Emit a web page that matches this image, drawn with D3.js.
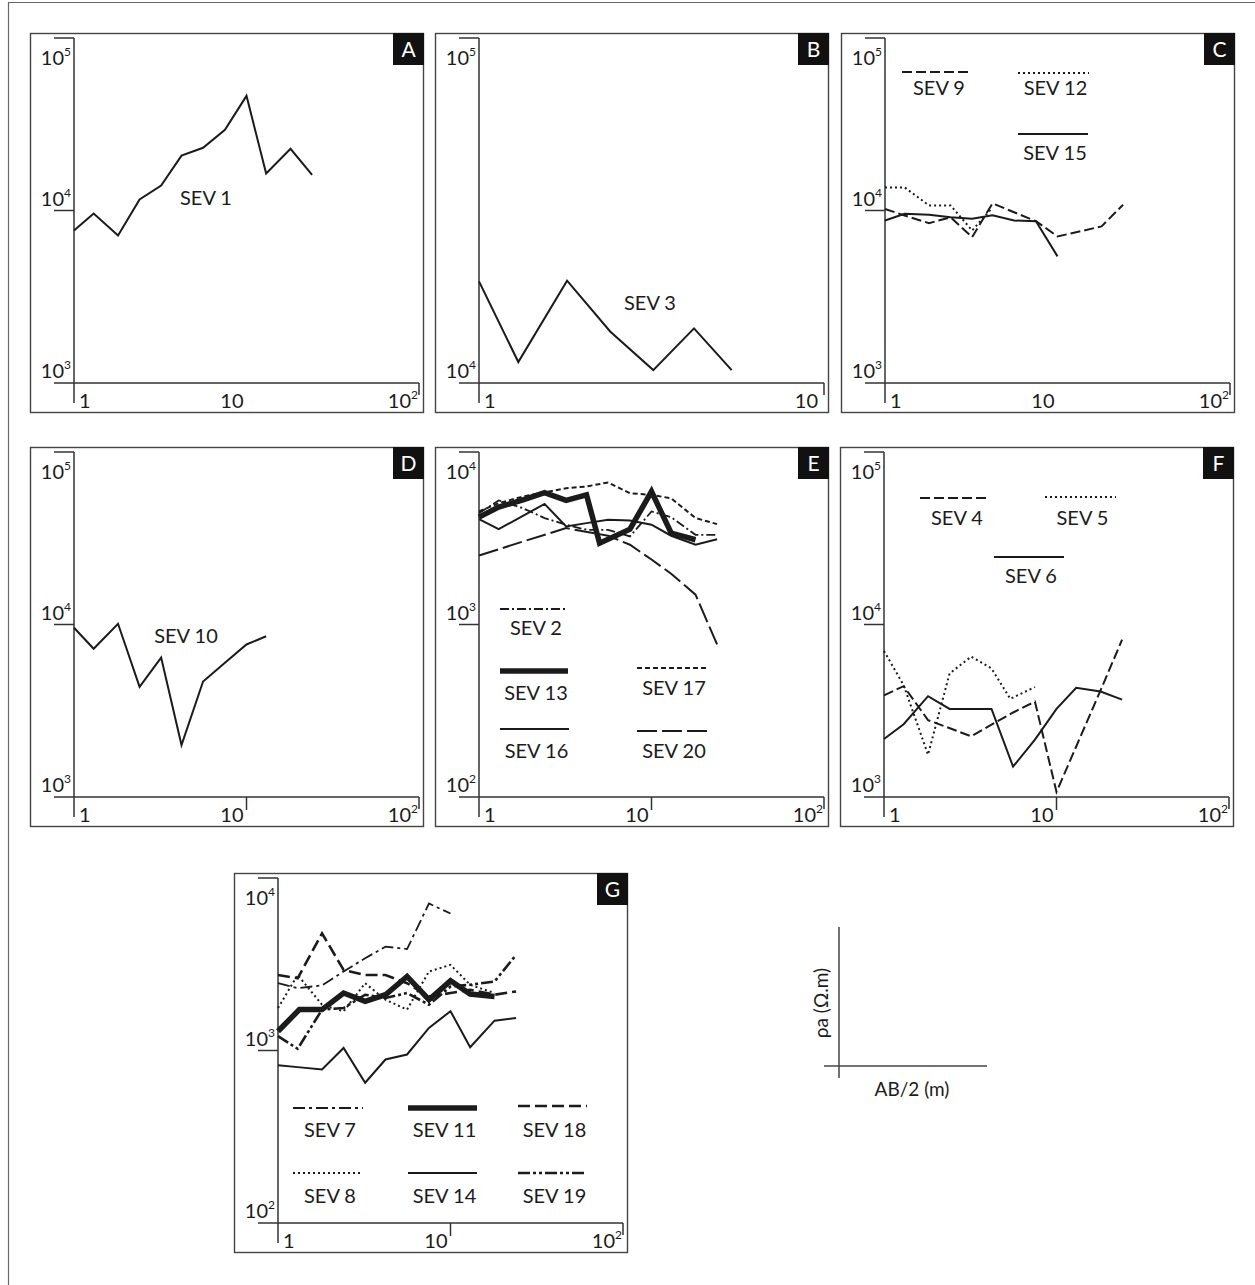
<!DOCTYPE html>
<html><head><meta charset="utf-8">
<script src="https://cdn.jsdelivr.net/npm/d3@7"></script>
<style>
body{margin:0;background:#fff}
svg{display:block}
text{font-family:Lato,"Open Sans",sans-serif;fill:#1b1b1b}
</style>
</head><body>
<svg id="c" width="1255" height="1285"></svg>
<script>
// ---- data: [AB/2 (m), rho_a (ohm.m)] ----
const sev1  = [[1,7650],[1.3,9600],[1.8,7160],[2.4,11600],[3.2,13960],[4.2,20800],[5.6,23100],[7.5,29400],[10,46200],[13,16400],[18,22800],[24,16100]];
const sev3  = [[1,19700],[1.3,11500],[1.8,19800],[2.4,14100],[3.2,10900],[4.2,14400],[5.4,10900]];
const sev9  = [[1,10200],[1.3,9350],[1.8,8450],[2.4,9140],[3.2,7010],[4.2,11000],[5.6,9770],[7.5,8670],[10,7080],[13,7500],[18,8090],[24,10800]];
const sev12 = [[1,13600],[1.3,13600],[1.8,10700],[2.4,10700],[3.2,7660],[4.2,10400]];
const sev15 = [[1,8750],[1.3,9570],[1.8,9450],[2.4,9140],[3.2,8950],[4.2,9380],[5.6,8750],[7.5,8670],[10,5420]];
const sev10 = [[1,9570],[1.3,7230],[1.8,10100],[2.4,4350],[3.2,6430],[4.2,2000],[5.6,4670],[7.5,6010],[10,7660],[13,8550]];
const sev2  = [[1,4420],[1.3,5240],[1.8,4720],[2.4,4140],[3.2,3790],[4.2,3540],[5.6,3540],[7.5,3240],[10,4520],[13,4190],[18,3310],[24,3310]];
const sev13 = [[1,4190],[1.3,4790],[1.8,5280],[2.4,5820],[3.2,5240],[4.2,5640],[5,2960],[7.5,3570],[10,5900],[13,3390],[18,3100]];
const sev16 = [[1,4080],[1.3,3570],[2.4,5000],[3.2,3700],[4.2,3870],[5.6,4050],[7.5,4010],[10,3790],[13,3270],[18,2900],[24,3120]];
const sev17 = [[1,4520],[1.3,5050],[1.8,5520],[3.2,6170],[4.2,6310],[5.6,6660],[7.5,5770],[10,5640],[13,5390],[18,4140],[24,3820]];
const sev20 = [[1,2510],[1.8,3030],[3.2,3620],[5.6,3270],[7.5,2900],[10,2380],[13,1970],[18,1490],[24,766]];
const sev4  = [[1,3880],[1.3,4390],[1.8,2790],[3.2,2250],[5.6,3090],[7.5,3570],[10,1070],[18,4150],[24,8160]];
const sev5  = [[1,7030],[1.3,4440],[1.8,1760],[2.4,5200],[3.2,6510],[4.2,5560],[5.4,3710],[7.5,4340]];
const sev6  = [[1,2170],[1.3,2640],[1.8,3840],[2.4,3240],[3.2,3240],[4.2,3240],[5.6,1500],[7.5,2150],[10,3240],[13,4300],[18,4090],[24,3670]];
const sev7  = [[1,2455],[1.3,2300],[1.8,2384],[2.4,2870],[3.2,3427],[4.2,4000],[5.6,3875],[7.5,7110],[10,6223]];
const sev8  = [[1,1763],[1.3,2742],[1.8,1842],[2.4,1686],[3.2,2455],[4.2,1970],[5.6,1726],[7.5,2870],[10,3137],[13,2404],[18,2153]];
const sev11 = [[1,1294],[1.33,1726],[1.8,1726],[2.4,2153],[3.2,1928],[4.2,2105],[5.6,2686],[7.5,1970],[10,2535],[13,2123],[18,2057]];
const sev14 = [[1,822],[1.3,801],[1.8,777],[2.4,1035],[3.2,650],[4.2,887],[5.6,948],[7.5,1352],[10,1690],[13,1045],[18,1489],[24,1543]];
const sev18 = [[1,2742],[1.3,2623],[1.8,4775],[2.4,2931],[3.2,2742],[4.2,2742],[5.6,2455],[7.5,2057],[10,2153],[13,2250],[18,2105],[24,2200]];
const sev19 = [[1,1211],[1.3,1023],[1.8,1726],[2.4,1763],[3.2,2105],[4.2,2014],[5.6,2153],[7.5,1842],[10,2350],[13,2404],[18,2512],[24,3580]];

const panelIds = ["A","B","C","D","E","F","G"];
const xTickLabels = {A:["1","10","10|2"],B:["1","10"],C:["1","10","10|2"],D:["1","10","10|2"],E:["1","10","10|2"],F:["1","10","10|2"],G:["1","10","10|2"]};
const yTickLabels = {A:["10|5","10|4","10|3"],B:["10|5","10|4"],C:["10|5","10|4","10|3"],D:["10|5","10|4","10|3"],E:["10|4","10|3","10|2"],F:["10|5","10|4","10|3"],G:["10|4","10|3","10|2"]};

// ---- styles ----
const S = {
  solid:{w:2, dash:null},
  thick:{w:5.5, dash:null},
  dash:{w:2, dash:"10,4"},
  dot:{w:2, dash:"2,3"},
  sdash:{w:2, dash:"5,3"},
  ldash:{w:2, dash:"20,5"},
  dashdot:{w:1.8, dash:"9,3,2,3"},
  dashdot7:{w:1.8, dash:"12,4,3,4"},
  dash18:{w:2.6, dash:"12,5"},
  dashdotdot:{w:2.6, dash:"12,3,3,3,3,3"}
};

const W = 393, H = 379, PL = 44, PB = 29, PS = 345;
const panels = [
  {id:"A", x0:30,  y0:33,  xd:[1,100], yd:[1e3,1e5], tick10:false,
   series:[{d:sev1,s:"solid"}], notes:[{t:"SEV 1",x:206,y:205}], legend:[]},
  {id:"B", x0:435, y0:33,  xd:[1,10],  yd:[1e4,1e5], tick10:false,
   series:[{d:sev3,s:"solid"}], notes:[{t:"SEV 3",x:650,y:310}], legend:[]},
  {id:"C", x0:841, y0:33,  xd:[1,100], yd:[1e3,1e5], tick10:false,
   series:[{d:sev12,s:"dot"},{d:sev9,s:"dash"},{d:sev15,s:"solid"}], notes:[],
   legend:[{s:"dash",t:"SEV 9",x1:902,x2:972,y:72,ty:95},{s:"dot",t:"SEV 12",x1:1018,x2:1089,y:73,ty:95},{s:"solid",t:"SEV 15",x1:1018,x2:1088,y:134,ty:160}]},
  {id:"D", x0:30,  y0:447, xd:[1,100], yd:[1e3,1e5], tick10:true,
   series:[{d:sev10,s:"solid"}], notes:[{t:"SEV 10",x:186,y:643}], legend:[]},
  {id:"E", x0:435, y0:447, xd:[1,100], yd:[1e2,1e4], tick10:true,
   series:[{d:sev20,s:"ldash"},{d:sev2,s:"dashdot"},{d:sev16,s:"solid"},{d:sev17,s:"sdash"},{d:sev13,s:"thick"}], notes:[],
   legend:[{s:"dashdot",t:"SEV 2",x1:500,x2:568,y:609,ty:635},{s:"thick",t:"SEV 13",x1:500,x2:568,y:671,ty:700},
           {s:"sdash",t:"SEV 17",x1:637,x2:707,y:668,ty:695},{s:"solid",t:"SEV 16",x1:500,x2:569,y:729,ty:758},
           {s:"ldash",t:"SEV 20",x1:637,x2:707,y:731,ty:758}]},
  {id:"F", x0:840, y0:447, xd:[1,100], yd:[1e3,1e5], tick10:true,
   series:[{d:sev5,s:"dot"},{d:sev4,s:"dash"},{d:sev6,s:"solid"}], notes:[],
   legend:[{s:"dash",t:"SEV 4",x1:920,x2:990,y:498,ty:525},{s:"dot",t:"SEV 5",x1:1045,x2:1116,y:497,ty:525},{s:"solid",t:"SEV 6",x1:994,x2:1064,y:557,ty:583}]},
  {id:"G", x0:234, y0:873, xd:[1,100], yd:[1e2,1e4], tick10:true,
   series:[{d:sev14,s:"solid"},{d:sev8,s:"dot"},{d:sev18,s:"dash18"},{d:sev7,s:"dashdot7"},{d:sev19,s:"dashdotdot"},{d:sev11,s:"thick"}], notes:[],
   legend:[{s:"dashdot7",t:"SEV 7",x1:293,x2:363,y:1108,ty:1137},{s:"thick",t:"SEV 11",x1:408,x2:477,y:1108,ty:1137},{s:"dash18",t:"SEV 18",x1:518,x2:587,y:1106,ty:1137},
           {s:"dot",t:"SEV 8",x1:293,x2:363,y:1173,ty:1203},{s:"solid",t:"SEV 14",x1:408,x2:477,y:1173,ty:1203},{s:"dashdotdot",t:"SEV 19",x1:518,x2:587,y:1173,ty:1203}]}
];

const svg = d3.select("#c");
const ink = "#1b1b1b", axc = "#333";

// outer frame (top and left edges visible)
svg.append("line").attr("x1",8).attr("y1",2.5).attr("x2",1255).attr("y2",2.5).attr("stroke","#666").attr("stroke-width",1.2);
svg.append("line").attr("x1",8.5).attr("y1",2).attr("x2",8.5).attr("y2",1285).attr("stroke","#666").attr("stroke-width",1.2);

function powLabel(g, str, x, y, anchor){
  const [b,e] = str.split("|");
  const t = g.append("text").attr("x",x).attr("y",y).attr("text-anchor",anchor).attr("font-size",20);
  t.append("tspan").text(b);
  if(e){ t.append("tspan").attr("font-size",12).attr("dy",-9).text(e); }
  return t;
}

panels.forEach(p=>{
  const g = svg.append("g");
  const ox = p.x0+PL, oy = p.y0+H-PB;
  const x = d3.scaleLog().domain(p.xd).range([ox, ox+PS]);
  const y = d3.scaleLog().domain(p.yd).range([oy, oy-PS]);
  // border
  g.append("rect").attr("x",p.x0+0.5).attr("y",p.y0+0.5).attr("width",W).attr("height",H)
    .attr("fill","none").attr("stroke","#444").attr("stroke-width",1.4);
  // label box
  g.append("rect").attr("x",p.x0+W-30).attr("y",p.y0).attr("width",31).attr("height",32).attr("fill","#111");
  g.append("text").attr("x",p.x0+W-14.5).attr("y",p.y0+24).attr("text-anchor","middle").attr("font-size",21)
    .style("fill","#fff").text(p.id);
  // axes
  const [x0d,x1d] = p.xd, [y0d,y1d] = p.yd;
  g.append("line").attr("x1",x(x0d)).attr("x2",x(x0d)).attr("y1",y(y1d)).attr("y2",oy+20).attr("stroke",axc).attr("stroke-width",1.5);
  g.append("line").attr("x1",x(x0d)-20).attr("x2",x(x1d)).attr("y1",oy).attr("y2",oy).attr("stroke",axc).attr("stroke-width",1.5);
  g.append("line").attr("x1",x(x1d)).attr("x2",x(x1d)).attr("y1",oy).attr("y2",oy+12).attr("stroke",axc).attr("stroke-width",1.5);
  // y ticks at each decade above the axis
  const yDecs = d3.range(Math.log10(y0d), Math.log10(y1d)+0.01).map(v=>Math.pow(10,v)).reverse();
  yDecs.forEach((v,i)=>{
    if(v!==y0d) g.append("line").attr("x1",x(x0d)-20).attr("x2",x(x0d)).attr("y1",y(v)).attr("y2",y(v)).attr("stroke",axc).attr("stroke-width",1.5);
    const ly = (i===0) ? y(v)+27 : y(v)-5;
    powLabel(g, yTickLabels[p.id][i], x(x0d)-3, ly, "end");
  });
  // x tick labels
  const xl = xTickLabels[p.id];
  powLabel(g, xl[0], x(x0d)+5, oy+25, "start");
  if(p.xd[1]===100){
    if(p.tick10) g.append("line").attr("x1",x(10)).attr("x2",x(10)).attr("y1",oy).attr("y2",oy+13).attr("stroke",axc).attr("stroke-width",1.5);
    powLabel(g, xl[1], x(10)-3, oy+25, "end");
    powLabel(g, xl[2], x(100)-1, oy+25, "end");
  } else {
    powLabel(g, xl[1], x(10)-6, oy+25, "end");
  }
  // series
  const line = d3.line().x(d=>x(d[0])).y(d=>y(d[1]));
  p.series.forEach(se=>{
    const st = S[se.s];
    g.append("path").attr("d",line(se.d)).attr("fill","none").attr("stroke",ink)
      .attr("stroke-width",st.w).attr("stroke-dasharray",st.dash).attr("stroke-linejoin","miter");
  });
  // notes
  p.notes.forEach(n=>g.append("text").attr("x",n.x).attr("y",n.y).attr("text-anchor","middle").attr("font-size",20).text(n.t));
  // legend
  p.legend.forEach(l=>{
    const st = S[l.s];
    g.append("line").attr("x1",l.x1).attr("x2",l.x2).attr("y1",l.y).attr("y2",l.y).attr("stroke",ink)
      .attr("stroke-width",st.w).attr("stroke-dasharray",st.dash);
    g.append("text").attr("x",(l.x1+l.x2)/2+2).attr("y",l.ty).attr("text-anchor","middle").attr("font-size",20).text(l.t);
  });
});

// axis-key
const k = svg.append("g");
k.append("line").attr("x1",839).attr("x2",839).attr("y1",927).attr("y2",1078).attr("stroke","#444").attr("stroke-width",1.5);
k.append("line").attr("x1",824).attr("x2",987).attr("y1",1066).attr("y2",1066).attr("stroke","#444").attr("stroke-width",1.5);
k.append("text").attr("x",912).attr("y",1096).attr("text-anchor","middle").attr("font-size",19).text("AB/2 (m)");
k.append("text").attr("transform","translate(828,1003) rotate(-90)").attr("text-anchor","middle").attr("font-size",19).text("ρa (Ω.m)");
</script>
</body></html>
